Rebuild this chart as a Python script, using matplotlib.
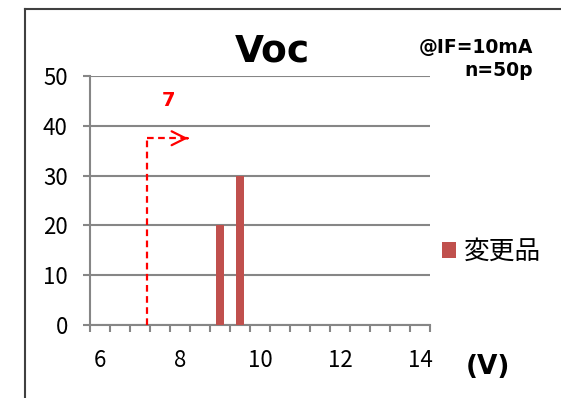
import matplotlib
matplotlib.use("Agg")
import matplotlib.pyplot as plt
from matplotlib.lines import Line2D

plt.rcParams['font.family'] = ['Noto Sans CJK JP', 'DejaVu Sans']

# Histogram data (bin centre in V, count)
voltages = [6.0, 6.5, 7.0, 7.5, 8.0, 8.5, 9.0, 9.5, 10.0,
            10.5, 11.0, 11.5, 12.0, 12.5, 13.0, 13.5, 14.0]
counts = [0, 0, 0, 0, 0, 0, 20, 30, 0,
          0, 0, 0, 0, 0, 0, 0, 0]
series_name = "変更品"
tick_labels = [6, 8, 10, 12, 14]

# spec limit marker (drawn where the original shape sits)
limit_label = "7"
limit_x = 7.18
limit_y = 37.5
arrow_end = 8.2

bar_color = "#C0504D"
grid_color = "#868686"

fig = plt.figure(figsize=(5.61, 3.98), dpi=100)
W, H = 561, 398
ax = fig.add_axes([90 / W, 73 / H, 340 / W, 249 / H])

ax.bar(voltages, counts, width=0.2, color=bar_color, label=series_name, zorder=3)

ax.set_xlim(5.75, 14.25)
ax.set_ylim(0, 50)
ax.set_yticks(range(0, 51, 10))
ax.yaxis.grid(True, color=grid_color, linewidth=1.5, zorder=0)

# category boundary ticks, labels in between
ax.set_xticks([v - 0.25 for v in voltages] + [voltages[-1] + 0.25])
ax.set_xticklabels([])
ax.set_xticks(tick_labels, minor=True)
ax.set_xticklabels([str(t) for t in tick_labels], minor=True)
ax.tick_params(axis='x', which='major', length=5, width=1.5, color=grid_color, direction='out')
ax.tick_params(axis='x', which='minor', length=0, pad=17, labelsize=16)
ax.tick_params(axis='y', length=5, width=1.5, color=grid_color, pad=11, labelsize=16)

for s in ['top', 'right']:
    ax.spines[s].set_visible(False)
for s in ['left', 'bottom']:
    ax.spines[s].set_color(grid_color)
    ax.spines[s].set_linewidth(1.5)

# spec limit line and arrow
ax.plot([limit_x, limit_x], [0, limit_y], color='red', lw=1.6, ls=(0, (3, 2)), zorder=4)
ax.plot([limit_x, arrow_end], [limit_y, limit_y], color='red', lw=1.6, ls=(0, (3, 2)), zorder=4)
ax.annotate('', xy=(arrow_end, limit_y), xytext=(arrow_end - 0.02, limit_y),
            arrowprops=dict(arrowstyle='->,head_length=1.0,head_width=0.5',
                            color='red', lw=1.6, shrinkA=0, shrinkB=0), zorder=4)
ax.text(7.72, 45, limit_label, color='red', fontsize=14, fontweight='bold',
        family='DejaVu Sans', ha='center', va='center')

# titles and notes
fig.text(272 / W, 1 - 52 / H, "Voc", fontsize=27, fontweight='bold',
         family='DejaVu Sans', ha='center', va='center')
fig.text(533 / W, 1 - 47 / H, "@IF=10mA", fontsize=13.5, fontweight='bold',
         family='DejaVu Sans', ha='right', va='center')
fig.text(533 / W, 1 - 70 / H, "n=50p", fontsize=13.5, fontweight='bold',
         family='DejaVu Sans', ha='right', va='center')
fig.text(488 / W, 1 - 367 / H, "(V)", fontsize=19, fontweight='bold',
         family='DejaVu Sans', ha='center', va='center')

fig.legend(loc='center left', bbox_to_anchor=(419 / W, 1 - 252 / H), frameon=False,
           fontsize=18.5, handlelength=0.55, handleheight=0.55, handletextpad=0.3)

# outer frame (top and left edges visible)
fig.add_artist(Line2D([25 / W, 25 / W], [0, 1 - 9 / H], color='#404040', lw=1.5,
                      transform=fig.transFigure))
fig.add_artist(Line2D([25 / W, 1], [1 - 9 / H, 1 - 9 / H], color='#404040', lw=1.5,
                      transform=fig.transFigure))

fig.savefig("out.png", dpi=100)
